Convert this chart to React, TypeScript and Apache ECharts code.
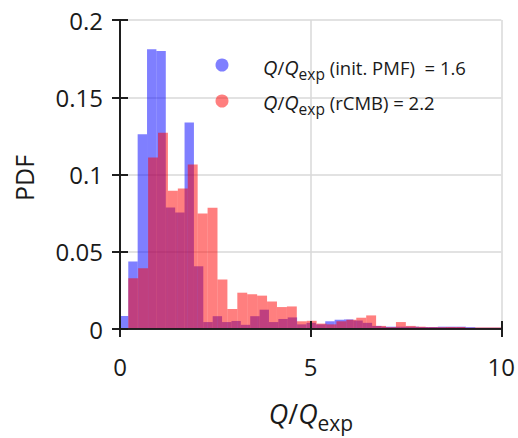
import React, { useEffect, useRef } from "react";
import * as echarts from "echarts";

// Histogram bin layouts (edges in Q/Qexp units) and PDF values
const blueStart = -0.029;
const blueWidth = 0.246;
const blueValues = [
  0.0084, 0.0437, 0.126, 0.181, 0.18, 0.0787, 0.0754, 0.1336, 0.0406, 0.0045,
  0.0083, 0.0045, 0.0052, 0.0027, 0.0083, 0.0125, 0.0045, 0.0065, 0.0075, 0.003,
  0.004, 0.003, 0.005, 0.006, 0.0062, 0.0055, 0.004, 0.002, 0.0015, 0.0015,
  0.0015, 0.0015, 0.0013, 0.0013, 0.0015, 0.0015, 0.0015, 0.0012, 0.0008, 0.0008,
  0.0008,
];
const redStart = 0.217;
const redWidth = 0.26;
const redValues = [
  0.0329, 0.0393, 0.111, 0.127, 0.0895, 0.091, 0.1065, 0.0748, 0.0785, 0.032,
  0.013, 0.0235, 0.0225, 0.0216, 0.0178, 0.0142, 0.0146, 0.005, 0.0053, 0.0035,
  0.003, 0.005, 0.006, 0.0073, 0.0088, 0.002, 0.0012, 0.0045, 0.002, 0.0015,
  0.0012, 0.0012, 0.0013, 0.0013, 0.0008, 0.001, 0.001, 0.001,
];
const blueLabel = "(init. PMF)  = 1.6";
const redLabel = "(rCMB) = 2.2";
const xTicks = { min: 0, max: 10, interval: 5 };
const yTicks = { min: 0, max: 0.2, interval: 0.05 };

const FONT = "Open Sans";
const INK = "#1a1a1a";
const BLUE = "rgba(0,0,255,0.5)";
const RED = "rgba(255,0,0,0.5)";

function bins(start: number, width: number, values: number[]) {
  return values.map((v, i) => [
    Math.max(0, start + i * width),
    Math.min(10, start + (i + 1) * width),
    v,
  ]);
}

const yFmt = (v: number) => {
  if (v === 0) return "0";
  return String(+v.toFixed(2));
};

export default function App() {
  const ref = useRef<HTMLDivElement>(null);
  useEffect(() => {
    document.body.style.margin = "0";
    const chart = echarts.init(ref.current!, null, { renderer: "svg" });
    const renderItem = (color: string) => (params: any, api: any) => {
      const p0 = api.coord([api.value(0), api.value(2)]);
      const p1 = api.coord([api.value(1), 0]);
      return {
        type: "rect",
        shape: { x: p0[0], y: p0[1], width: p1[0] - p0[0], height: p1[1] - p0[1] },
        style: { fill: color },
      };
    };
    const baseX = { type: "value", ...xTicks, gridIndex: 0 };
    const baseY = { type: "value", ...yTicks, gridIndex: 0 };
    const hidden = {
      axisLine: { show: false },
      axisTick: { show: false },
      axisLabel: { show: false },
      splitLine: { show: false },
    };
    const spine = (inside: boolean, line: boolean) => ({
      z: 5,
      axisLine: { show: line, lineStyle: { color: INK, width: 1.7 } },
      axisTick: { show: true, inside, length: 8, lineStyle: { color: INK, width: 1.7 } },
      axisLabel: { show: false },
      splitLine: { show: false },
    });
    const sub = { fontFamily: FONT, fontSize: 15.5, padding: [13, 0, 0, 0], fill: INK, color: INK };
    const legendRich = {
      i: { fontFamily: FONT, fontSize: 20, fontStyle: "italic", fill: INK, color: INK },
      n: { fontFamily: FONT, fontSize: 18.5, fill: INK, color: INK },
      s: sub,
    };
    chart.setOption({
      animation: false,
      grid: { left: 120, right: 16, top: 20, bottom: 109 },
      xAxis: [
        {
          ...baseX,
          position: "bottom",
          ...hidden,
          splitLine: { show: true, lineStyle: { color: "#d9d9d9", width: 1.5 } },
        },
        {
          ...baseX,
          position: "bottom",
          ...spine(false, true),
          axisLabel: {
            show: true,
            fontFamily: FONT,
            fontSize: 24,
            color: INK,
            margin: 25,
          },
        },
        { ...baseX, position: "bottom", ...spine(true, false) },
        { ...baseX, position: "top", ...spine(false, true) },
        { ...baseX, position: "top", ...spine(true, false) },
      ],
      yAxis: [
        {
          ...baseY,
          position: "left",
          ...hidden,
          splitLine: { show: true, lineStyle: { color: "#d9d9d9", width: 1.5 } },
        },
        {
          ...baseY,
          position: "left",
          ...spine(false, true),
          axisLabel: {
            show: true,
            fontFamily: FONT,
            fontSize: 24,
            color: INK,
            margin: 17,
            formatter: yFmt,
          },
        },
        { ...baseY, position: "left", ...spine(true, false) },
        { ...baseY, position: "right", ...spine(false, true) },
        { ...baseY, position: "right", ...spine(true, false) },
      ],
      series: [
        {
          type: "custom",
          name: "init. PMF",
          xAxisIndex: 0,
          yAxisIndex: 0,
          clip: true,
          renderItem: renderItem(BLUE),
          encode: { x: [0, 1], y: 2 },
          data: bins(blueStart, blueWidth, blueValues),
          z: 2,
        },
        {
          type: "custom",
          name: "rCMB",
          xAxisIndex: 0,
          yAxisIndex: 0,
          clip: true,
          renderItem: renderItem(RED),
          encode: { x: [0, 1], y: 2 },
          data: bins(redStart, redWidth, redValues),
          z: 3,
        },
      ],
      graphic: [
        { type: "circle", shape: { cx: 222, cy: 65, r: 6.5 }, style: { fill: BLUE }, z: 10 },
        { type: "circle", shape: { cx: 222, cy: 101, r: 6.5 }, style: { fill: RED }, z: 10 },
        {
          type: "text",
          x: 263,
          y: 67,
          z: 10,
          style: {
            text: "{i|Q}{n|/}{i|Q}{s|exp}{n| " + blueLabel + "}",
            rich: legendRich,
            verticalAlign: "middle",
            align: "left",
          },
        },
        {
          type: "text",
          x: 263,
          y: 102,
          z: 10,
          style: {
            text: "{i|Q}{n|/}{i|Q}{s|exp}{n| " + redLabel + "}",
            rich: legendRich,
            verticalAlign: "middle",
            align: "left",
          },
        },
        {
          type: "text",
          x: 311,
          y: 413,
          z: 10,
          style: {
            text: "{i|Q}{n|/}{i|Q}{s|exp}",
            rich: {
              i: { fontFamily: FONT, fontSize: 27, fontStyle: "italic", fill: INK, color: INK },
              n: { fontFamily: FONT, fontSize: 27, fill: INK, color: INK },
              s: { fontFamily: FONT, fontSize: 21, padding: [20, 0, 0, 0], fill: INK, color: INK },
            },
            verticalAlign: "middle",
            align: "center",
          },
        },
        {
          type: "text",
          x: 24,
          y: 178,
          rotation: Math.PI / 2,
          z: 10,
          style: {
            text: "PDF",
            fontFamily: FONT,
            fontSize: 25,
            fill: INK,
            align: "center",
            verticalAlign: "middle",
          },
        },
      ],
    });
    return () => chart.dispose();
  }, []);
  return <div ref={ref} style={{ width: 518, height: 438 }} />;
}
